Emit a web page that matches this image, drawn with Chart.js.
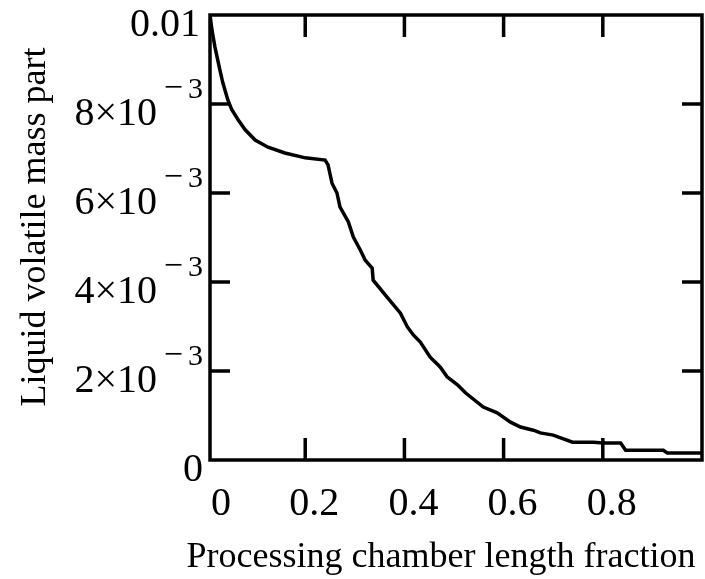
<!DOCTYPE html>
<html>
<head>
<meta charset="utf-8">
<script src="https://cdn.jsdelivr.net/npm/chart.js@4/dist/chart.umd.min.js"></script>
<style>
  html, body { margin: 0; padding: 0; background: #fff; }
  canvas { display: block; }
</style>
</head>
<body>
<canvas id="chart" width="705" height="579"></canvas>
<script>
// curve (x: chamber length fraction, y: mass part)
var lengthFraction = [0.008, 0.012, 0.018, 0.028, 0.034, 0.044, 0.052, 0.065, 0.079, 0.099,
  0.125, 0.159, 0.200, 0.240, 0.246, 0.254, 0.264, 0.270, 0.287, 0.297,
  0.311, 0.321, 0.335, 0.337, 0.365, 0.392, 0.406, 0.418, 0.432, 0.452,
  0.472, 0.486, 0.507, 0.523, 0.559, 0.587, 0.614, 0.634, 0.660, 0.674,
  0.700, 0.739, 0.781, 0.801, 0.836, 0.846, 0.922, 0.930, 0.998];
var massPart = [0.01000, 0.00966, 0.00928, 0.00876, 0.00847, 0.00809, 0.00787, 0.00764, 0.00742, 0.00719,
  0.00703, 0.00690, 0.00679, 0.00674, 0.00663, 0.00622, 0.00600, 0.00569, 0.00535, 0.00501,
  0.00472, 0.00449, 0.00431, 0.00404, 0.00366, 0.00330, 0.00299, 0.00281, 0.00265, 0.00231,
  0.00209, 0.00187, 0.00169, 0.00151, 0.00119, 0.00106, 0.00085, 0.00074, 0.00067, 0.00061,
  0.00056, 0.00040, 0.00040, 0.00038, 0.00038, 0.00022, 0.00022, 0.00016, 0.00016];

var xTicks = [0.2, 0.4, 0.6, 0.8];
var xTickLabels = ['0', '0.2', '0.4', '0.6', '0.8'];
var yTicks = [0, 0.002, 0.004, 0.006, 0.008, 0.01];
var yTickMantissa = ['0', '2\u00d710', '4\u00d710', '6\u00d710', '8\u00d710', '0.01'];
var yTickExponent = ['', '\u22123', '\u22123', '\u22123', '\u22123', ''];

var serif = '"Liberation Serif", "Times New Roman", serif';

var points = lengthFraction.map(function (x, i) { return { x: x, y: massPart[i] }; });

var mathcadFrame = {
  id: 'mathcadFrame',
  afterDraw: function (chart) {
    var ctx = chart.ctx;
    var a = chart.chartArea;
    var sx = chart.scales.x, sy = chart.scales.y;
    ctx.save();
    ctx.strokeStyle = '#000';
    ctx.fillStyle = '#000';
    ctx.lineWidth = 3.5;
    ctx.lineCap = 'butt';
    ctx.strokeRect(a.left, a.top, a.right - a.left, a.bottom - a.top);

    // inward ticks on all four sides
    ctx.beginPath();
    xTicks.forEach(function (v) {
      var px = sx.getPixelForValue(v);
      ctx.moveTo(px, a.bottom); ctx.lineTo(px, a.bottom - 22);
      ctx.moveTo(px, a.top); ctx.lineTo(px, a.top + 22);
    });
    yTicks.slice(1, -1).forEach(function (v) {
      var py = sy.getPixelForValue(v);
      ctx.moveTo(a.left, py); ctx.lineTo(a.left + 20, py);
      ctx.moveTo(a.right, py); ctx.lineTo(a.right - 20, py);
    });
    ctx.stroke();

    // x tick labels
    ctx.font = '40px ' + serif;
    ctx.textAlign = 'center';
    ctx.textBaseline = 'alphabetic';
    xTickLabels.forEach(function (t, i) {
      var px = i === 0 ? a.left + 11 : sx.getPixelForValue(xTicks[i - 1]) + 9;
      ctx.fillText(t, px, a.bottom + 55);
    });

    // y tick labels with superscript exponents
    yTicks.forEach(function (v, i) {
      var py = sy.getPixelForValue(v) + 21;
      var right = a.left - 7;
      ctx.textAlign = 'right';
      if (yTickExponent[i]) {
        ctx.font = '30px ' + serif;
        ctx.fillText('3', right, py - 27);
        ctx.font = '34px ' + serif;
        ctx.fillText('\u2212', right - 20, py - 27);
        ctx.font = '40px ' + serif;
        ctx.fillText(yTickMantissa[i], right - 46, py);
      } else {
        ctx.font = '40px ' + serif;
        ctx.fillText(yTickMantissa[i], right - (i === 0 ? 0 : 3), py);
      }
    });

    // axis titles
    ctx.font = '36px ' + serif;
    ctx.textAlign = 'center';
    ctx.fillText('Processing chamber length fraction', 441, a.bottom + 107);
    ctx.translate(45, 227);
    ctx.rotate(-Math.PI / 2);
    ctx.fillText('Liquid volatile mass part', 0, 0);
    ctx.restore();
  }
};

new Chart(document.getElementById('chart'), {
  type: 'line',
  data: {
    datasets: [{
      data: points,
      borderColor: '#000',
      borderWidth: 3.5,
      pointRadius: 0,
      tension: 0,
      fill: false
    }]
  },
  options: {
    responsive: false,
    animation: false,
    layout: { padding: { left: 210, top: 15, right: 3, bottom: 119 } },
    plugins: { legend: { display: false }, tooltip: { enabled: false } },
    scales: {
      x: { type: 'linear', min: 0.008, max: 1.0, display: false },
      y: { type: 'linear', min: 0, max: 0.01, display: false }
    }
  },
  plugins: [mathcadFrame]
});
</script>
</body>
</html>
